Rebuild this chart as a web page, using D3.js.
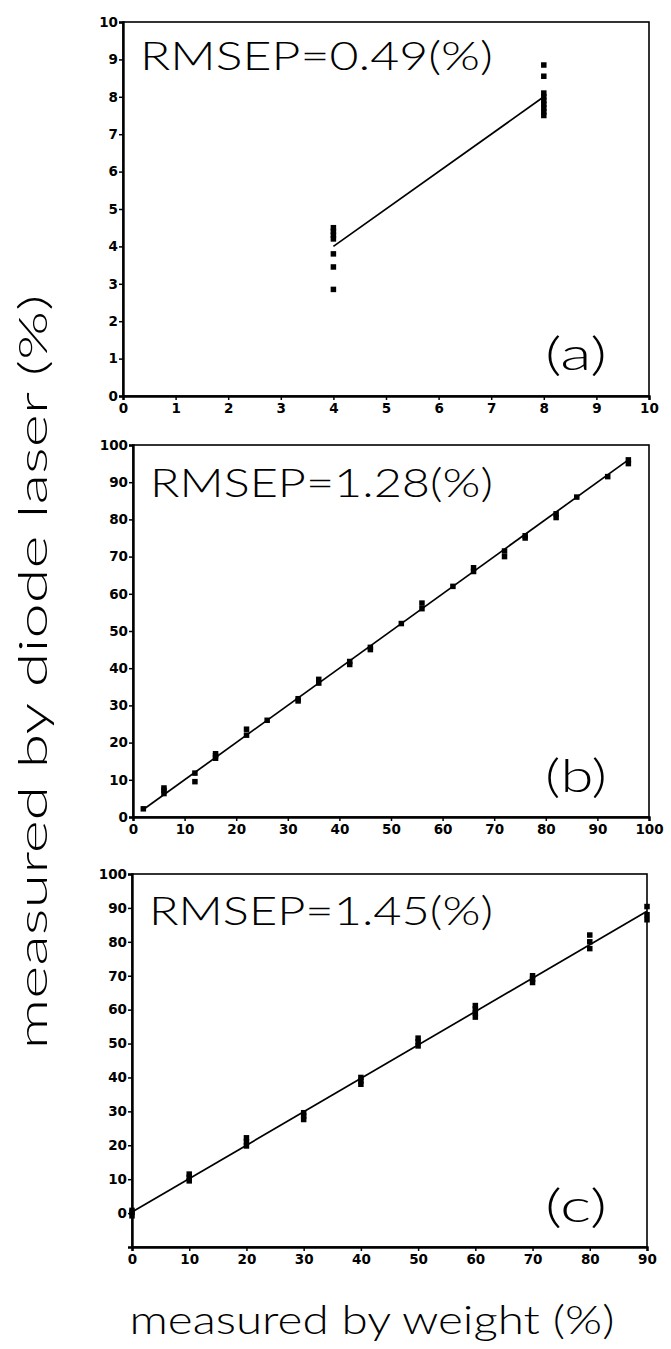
<!DOCTYPE html>
<html>
<head>
<meta charset="utf-8">
<script src="https://cdn.jsdelivr.net/npm/d3@7"></script>
<style>
  html, body { margin: 0; padding: 0; background: #fff; }
  svg { display: block; }
  .tick text { font-family: "DejaVu Sans", sans-serif; font-weight: bold; }
  .big { font-family: Lato, "Open Sans", "DejaVu Sans", sans-serif; font-weight: 300; fill: #000; }
</style>
</head>
<body>
<script>
// ---------- data ----------
const aTicks = [0, 1, 2, 3, 4, 5, 6, 7, 8, 9, 10];
const aX = [4, 4, 4, 4, 4, 4, 4, 8, 8, 8, 8, 8, 8, 8, 8, 8];
const aY = [4.5, 4.4, 4.3, 4.2, 3.8, 3.45, 2.85, 8.85, 8.55, 8.1, 8.0, 7.9, 7.8, 7.7, 7.6, 7.5];
const aFitX = [4, 8];
const aFitY = [4, 8];

const bTicks = [0, 10, 20, 30, 40, 50, 60, 70, 80, 90, 100];
const bX = [2, 6, 6, 6, 12, 12, 16, 16, 16, 22, 22, 26, 32, 32, 36, 36, 42, 42, 46, 46, 52, 56, 56, 62, 66, 66, 72, 72, 76, 76, 82, 82, 86, 92, 96, 96];
const bY = [2.2, 6.3, 7.2, 7.8, 11.8, 9.5, 15.8, 16.5, 17, 22, 23.6, 26, 31.2, 31.8, 36, 37, 41, 41.8, 45, 45.6, 52, 56, 57.5, 62, 66, 67, 70, 71.5, 75, 75.6, 80.5, 81.5, 86, 91.5, 95, 96];
const bFitX = [2, 96];
const bFitY = [2, 96];

const cXTicks = [0, 10, 20, 30, 40, 50, 60, 70, 80, 90];
const cYTicks = [0, 10, 20, 30, 40, 50, 60, 70, 80, 90, 100];
const cX = [0, 0, 0, 10, 10, 10, 20, 20, 20, 30, 30, 30, 40, 40, 40, 50, 50, 50, 60, 60, 60, 60, 70, 70, 70, 80, 80, 80, 90, 90, 90];
const cY = [-0.8, 0.2, 0.8, 9.5, 10.5, 11.5, 19.8, 21, 22.2, 27.6, 28.6, 29.6, 38, 39, 40, 49.3, 50.5, 51.6, 57.8, 59, 60.2, 61.2, 68, 69, 70, 78, 80, 82, 86.5, 88, 90.4];
const cFitX = [0, 90];
const cFitY = [0.3, 89];

const rmsep = ["RMSEP=0.49(%)", "RMSEP=1.28(%)", "RMSEP=1.45(%)"];
const letters = ["(a)", "(b)", "(c)"];
const yTitle = "measured by diode laser (%)";
const xTitle = "measured by weight (%)";

// ---------- drawing ----------
const W = 671, H = 1349;
const svg = d3.select("body").append("svg").attr("width", W).attr("height", H);

const panels = [
  { xs: aX, ys: aY, fx: aFitX, fy: aFitY, xd: [0, 10], yd: [0, 10], xt: aTicks, yt: aTicks,
    x0: 123, x1: 649, y0: 396, y1: 22, label: rmsep[0], letter: letters[0],
    txtY: 70, letY: 370 },
  { xs: bX, ys: bY, fx: bFitX, fy: bFitY, xd: [0, 100], yd: [0, 100], xt: bTicks, yt: bTicks,
    x0: 133, x1: 649, y0: 817, y1: 445, label: rmsep[1], letter: letters[1],
    txtY: 497, letY: 792 },
  { xs: cX, ys: cY, fx: cFitX, fy: cFitY, xd: [0, 90], yd: [-10, 100], xt: cXTicks, yt: cYTicks,
    x0: 132, x1: 647, y0: 1247, y1: 874, label: rmsep[2], letter: letters[2],
    txtY: 925, letY: 1222 }
];

panels.forEach(p => {
  const x = d3.scaleLinear().domain(p.xd).range([p.x0, p.x1]);
  const y = d3.scaleLinear().domain(p.yd).range([p.y0, p.y1]);
  const g = svg.append("g");

  // frame (top/right)
  g.append("rect")
    .attr("x", p.x0).attr("y", p.y1)
    .attr("width", p.x1 - p.x0).attr("height", p.y0 - p.y1)
    .attr("fill", "none").attr("stroke", "#000").attr("stroke-width", 1.6);

  // x axis
  const xa = g.append("g").attr("transform", `translate(0,${p.y0})`)
    .call(d3.axisBottom(x).tickValues(p.xt).tickSize(4).tickPadding(3).tickFormat(d3.format("d")));
  xa.select(".domain").attr("stroke-width", 2.4);
  xa.selectAll(".tick line").attr("stroke-width", 1.5);
  xa.selectAll(".tick text").attr("font-size", 13.5).attr("fill", "#000");

  // y axis
  const ya = g.append("g").attr("transform", `translate(${p.x0},0)`)
    .call(d3.axisLeft(y).tickValues(p.yt).tickSize(4).tickPadding(1).tickFormat(d3.format("d")));
  ya.select(".domain").attr("stroke-width", 2.4);
  ya.selectAll(".tick line").attr("stroke-width", 1.5);
  ya.selectAll(".tick text").attr("font-size", 13.5).attr("fill", "#000");

  // fitted line
  const line = d3.line().x(d => x(d[0])).y(d => y(d[1]));
  g.append("path")
    .datum(p.fx.map((v, i) => [v, p.fy[i]]))
    .attr("d", line)
    .attr("fill", "none").attr("stroke", "#000").attr("stroke-width", 1.7);

  // points
  const s = 5.5;
  g.selectAll("rect.pt")
    .data(p.xs.map((v, i) => [v, p.ys[i]]))
    .join("rect").attr("class", "pt")
    .attr("x", d => x(d[0]) - s / 2).attr("y", d => y(d[1]) - s / 2)
    .attr("width", s).attr("height", s).attr("fill", "#000");

  // RMSEP label
  g.append("text").attr("class", "big")
    .attr("x", p.x0 + 17).attr("y", p.txtY)
    .attr("font-size", 39)
    .attr("textLength", 493 - (p.x0 + 17)).attr("lengthAdjust", "spacingAndGlyphs")
    .text(p.label);

  // panel letter
  g.append("text").attr("class", "big")
    .attr("x", 545).attr("y", p.letY)
    .attr("font-size", 46)
    .attr("textLength", 62).attr("lengthAdjust", "spacingAndGlyphs")
    .text(p.letter);
});

// axis titles
svg.append("text").attr("class", "big")
  .attr("transform", "translate(47,672) rotate(-90)")
  .attr("text-anchor", "middle")
  .attr("font-size", 40)
  .attr("textLength", 755).attr("lengthAdjust", "spacingAndGlyphs")
  .text(yTitle);

svg.append("text").attr("class", "big")
  .attr("x", 372).attr("y", 1334)
  .attr("text-anchor", "middle")
  .attr("font-size", 40)
  .attr("textLength", 485).attr("lengthAdjust", "spacingAndGlyphs")
  .text(xTitle);
</script>
</body>
</html>
